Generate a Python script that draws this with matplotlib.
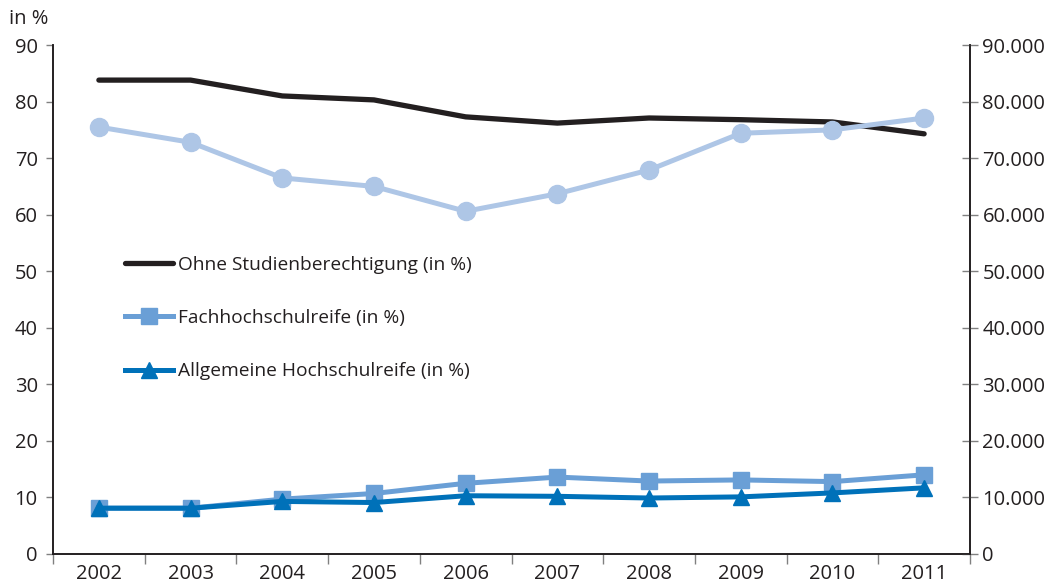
import numpy as np
import matplotlib
matplotlib.use('Agg')
import matplotlib.pyplot as plt
from matplotlib.ticker import FuncFormatter, FixedLocator

years = ['2002', '2003', '2004', '2005', '2006', '2007', '2008', '2009', '2010', '2011']

# shares in percent (left axis)
ohne = [83.8, 83.8, 81.0, 80.3, 77.3, 76.2, 77.1, 76.8, 76.4, 74.3]
fachhoch = [8.1, 8.1, 9.7, 10.7, 12.5, 13.6, 12.9, 13.1, 12.8, 14.0]
allgemein = [8.1, 8.1, 9.3, 9.1, 10.3, 10.2, 9.9, 10.1, 10.8, 11.7]

# absolute count (right axis)
anzahl = [75500, 72800, 66500, 65000, 60600, 63700, 67900, 74400, 75000, 77100]

plt.rcParams['font.family'] = ['Open Sans', 'DejaVu Sans']
fs = 14.5

c_black = '#231f20'
c_circle = '#aec6e6'
c_square = '#6a9fd6'
c_tri = '#0071b9'
c_text = '#231f20'

fig = plt.figure(figsize=(10.5, 5.85), dpi=100)
ax = fig.add_axes([0.0505, 0.053, 0.8733, 0.870])
ax2 = ax.twinx()

x = np.arange(len(years))

l1, = ax.plot(x, ohne, color=c_black, lw=3.8, solid_capstyle='round',
              solid_joinstyle='round', label='Ohne Studienberechtigung (in %)')
l2, = ax.plot(x, fachhoch, color=c_square, lw=3.6, marker='s', ms=11,
              label='Fachhochschulreife (in %)')
l3, = ax.plot(x, allgemein, color=c_tri, lw=3.6, marker='^', ms=12,
              label='Allgemeine Hochschulreife (in %)')
ax2.plot(x, anzahl, color=c_circle, lw=3.6, marker='o', ms=13)

ax.set_xlim(-0.5, len(years) - 0.5)
ax.set_ylim(0, 90)
ax2.set_ylim(0, 90000)

ax.set_yticks(np.arange(0, 91, 10))
ax2.set_yticks(np.arange(0, 90001, 10000))
ax2.yaxis.set_major_formatter(FuncFormatter(
    lambda v, p: '0' if v == 0 else '{:,.0f}'.format(v).replace(',', '.')))

ax.set_xticks(x)
ax.set_xticklabels(years)
ax.xaxis.set_minor_locator(FixedLocator(np.arange(-0.5, len(years), 1.0)))
ax.tick_params(axis='x', which='major', length=0, pad=7, labelsize=fs, colors=c_text)
ax.tick_params(axis='x', which='minor', length=7, width=1, color='#808080', direction='out')
ax.tick_params(axis='y', length=5, width=1, color='#808080', labelcolor=c_text,
               labelsize=fs, pad=6)
ax2.tick_params(axis='y', length=12, width=1, color='#808080', direction='inout',
                labelcolor=c_text, labelsize=fs, pad=3)

for a in (ax, ax2):
    a.spines['top'].set_visible(False)
    for s in ('left', 'right', 'bottom'):
        a.spines[s].set_color(c_black)
        a.spines[s].set_linewidth(1.2)

fig.text(0.009, 0.967, 'in %', fontsize=fs, color=c_text, ha='left', va='center')

leg = ax2.legend(handles=[l1, l2, l3], loc='center left', bbox_to_anchor=(0.0785, 0.4637),
                 frameon=False, handlelength=2.5, handletextpad=0.25, borderpad=0,
                 labelspacing=1.85, fontsize=13.8, borderaxespad=0)
for t in leg.get_texts():
    t.set_color(c_text)

fig.savefig('out.png', dpi=100)
